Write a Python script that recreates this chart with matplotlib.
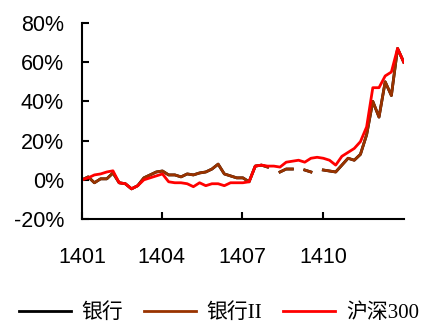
import numpy as np
import pandas as pd
import matplotlib
matplotlib.use('Agg')
import matplotlib.pyplot as plt

# weekly observations through 2014 (cumulative return, %)
dates = pd.date_range('2014-01-01', '2014-12-31', periods=53)

nan = np.nan
yinhang = [0, 1.5, -1.5, 0.5, 0.5, 3.5, -1.5, -2, -4.6, -3,
           1, 2.5, 4, 4.5, 2.5, 2.5, 1.5, 3, 2.5, 3.5,
           4, 5.5, 8, 3, 2, 1, 1, -1, 7, 7.5,
           6.5, nan, 4, 5.5, 5.5, nan, 5, 4, nan, 5,
           4.5, 4, 7.5, 11, 10, 13, 23, 40, 32, 50,
           43, 67, 60]
yinhang2 = [0, 1.5, -1.5, 0.5, 0.5, 3.5, -1.5, -2, -4.6, -3,
            1, 2.5, 4, 4.5, 2.5, 2.5, 1.5, 3, 2.5, 3.5,
            4, 5.5, 8, 3, 2, 1, 1, -1, 7, 7.5,
            6.5, nan, 4, 5.5, 5.5, nan, 5, 4, nan, 5,
            4.5, 4, 7.5, 11, 10, 13, 23, 40, 32, 50,
            43, 67, 60]
hs300 = [0, 1, 2.5, 3, 4, 4.6, -1.5, -2, -4.6, -3,
         0, 1, 2, 3, -1, -1.5, -1.5, -2, -3.5, -1.5,
         -3, -2, -2, -3, -1.5, -1.5, -1.5, -1, 7, 7.5,
         7, 7, 6.5, 9, 9.5, 10, 9, 11, 11.5, 11,
         10, 7.5, 12, 14, 16, 19.5, 27, 47, 47, 53,
         55, 67, 60]

tick_dates = pd.to_datetime(['2014-01-01', '2014-04-01', '2014-07-01', '2014-10-01'])
tick_labels = ['1401', '1404', '1407', '1410']

plt.rcParams['font.family'] = ['Liberation Sans', 'Noto Sans CJK SC']

fig = plt.figure(figsize=(4.25, 3.24), dpi=100)
ax = fig.add_axes([0.193, 0.324, 0.757, 0.605])

ax.plot(dates, np.array(yinhang) / 100, color='black', lw=2.0, label='银行')
ax.plot(dates, np.array(yinhang2) / 100, color='#993300', lw=2.0, label='银行II')
ax.plot(dates, np.array(hs300) / 100, color='#FF0000', lw=2.0, label='沪深300')

ax.set_xlim(pd.Timestamp('2014-01-01'), pd.Timestamp('2014-12-31'))
ax.set_ylim(-0.2, 0.8)
ax.set_yticks(np.arange(-0.2, 0.81, 0.2))
ax.set_yticklabels(['-20%', '0%', '20%', '40%', '60%', '80%'])
ax.set_xticks(tick_dates)
ax.set_xticklabels(tick_labels)

for s in ['top', 'right']:
    ax.spines[s].set_visible(False)
for s in ['left', 'bottom']:
    ax.spines[s].set_linewidth(1.5)

ax.tick_params(axis='both', direction='in', length=5, width=1.5, labelsize=15.5)
ax.tick_params(axis='y', pad=13)
ax.tick_params(axis='x', pad=20)

leg = fig.legend(loc='lower center', bbox_to_anchor=(0.515, -0.055), ncol=3,
                 frameon=False, handlelength=2.5, handletextpad=0.5,
                 columnspacing=1.0, prop={'family': ['Liberation Serif', 'Noto Sans CJK SC'], 'size': 15})

plt.savefig('out.png', dpi=100)
